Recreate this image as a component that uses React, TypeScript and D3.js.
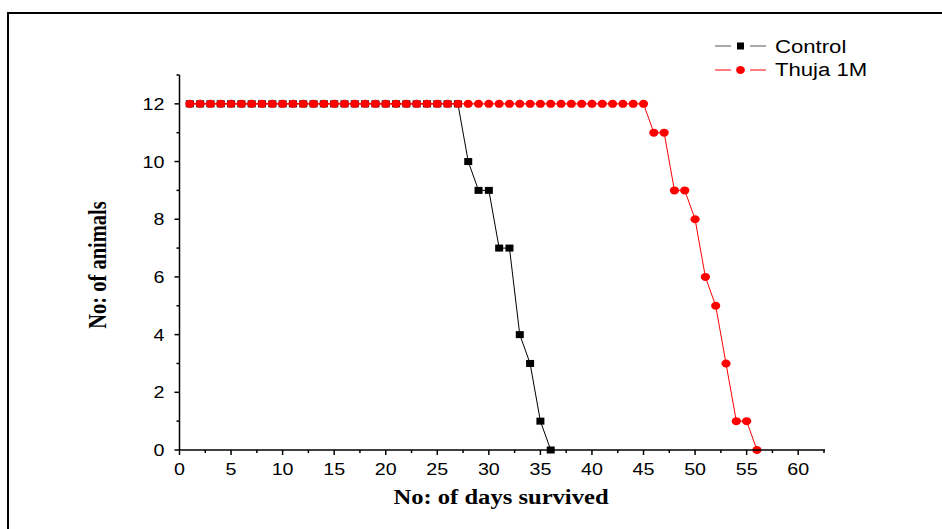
import React from "react";
import * as d3 from "d3";

// Survival counts per day
const controlDays = [1,2,3,4,5,6,7,8,9,10,11,12,13,14,15,16,17,18,19,20,21,22,23,24,25,26,27,28,29,30,31,32,33,34,35,36];
const controlCounts = [12,12,12,12,12,12,12,12,12,12,12,12,12,12,12,12,12,12,12,12,12,12,12,12,12,12,12,10,9,9,7,7,4,3,1,0];
const thujaDays = [1,2,3,4,5,6,7,8,9,10,11,12,13,14,15,16,17,18,19,20,21,22,23,24,25,26,27,28,29,30,31,32,33,34,35,36,37,38,39,40,41,42,43,44,45,46,47,48,49,50,51,52,53,54,55,56];
const thujaCounts = [12,12,12,12,12,12,12,12,12,12,12,12,12,12,12,12,12,12,12,12,12,12,12,12,12,12,12,12,12,12,12,12,12,12,12,12,12,12,12,12,12,12,12,12,12,11,11,9,9,8,6,5,3,1,1,0];
const xTicks = [0,5,10,15,20,25,30,35,40,45,50,55,60];
const yTicks = [0,2,4,6,8,10,12];
const seriesNames = ["Control", "Thuja 1M"];

const W = 942, H = 529;
const x = d3.scaleLinear().domain([0, 62.6]).range([179.5, 825]);
const y = d3.scaleLinear().domain([0, 13]).range([450, 75]);

const sans = "'Liberation Sans', Arial, sans-serif";
const serif = "'Liberation Serif', 'Times New Roman', serif";
// text in this figure is drawn horizontally widened
const SX = 1.23;

function WideText(props: { x: number; y: number; anchor?: string; size: number; family: string; bold?: boolean; children: React.ReactNode }) {
  return (
    <text
      transform={`translate(${props.x},${props.y}) scale(${SX},1)`}
      textAnchor={props.anchor || "start"}
      fontFamily={props.family}
      fontWeight={props.bold ? "bold" : "normal"}
      fontSize={props.size}
      fill="#000"
    >
      {props.children}
    </text>
  );
}

export default function App() {
  const line = d3.line<[number, number]>().x(d => x(d[0])).y(d => y(d[1]));
  const ctrl: [number, number][] = controlDays.map((d, i) => [d, controlCounts[i]]);
  const thuja: [number, number][] = thujaDays.map((d, i) => [d, thujaCounts[i]]);
  const minorX = d3.range(2.5, 62.6, 5);
  const minorY = d3.range(1, 13.01, 2);

  return (
    <svg width={W} height={H} style={{ position: "absolute", left: 0, top: 0, background: "#fff" }}>
      {/* frame */}
      <line x1={8} y1={13} x2={942} y2={13} stroke="#000" strokeWidth={2} />
      <line x1={8} y1={12} x2={8} y2={529} stroke="#000" strokeWidth={2} />

      {/* control series */}
      <path d={line(ctrl) || ""} fill="none" stroke="#000" strokeWidth={1} />
      {ctrl.map((d, i) => (
        <rect key={"c" + i} x={x(d[0]) - 4} y={y(d[1]) - 3.5} width={8} height={7} fill="#000" />
      ))}

      {/* thuja series */}
      <path d={line(thuja) || ""} fill="none" stroke="#ff0000" strokeWidth={1} />
      {thuja.map((d, i) => (
        <ellipse key={"t" + i} cx={x(d[0])} cy={y(d[1])} rx={4.6} ry={4} fill="#ff0000" />
      ))}

      {/* axes */}
      <line x1={x(0)} y1={y(0)} x2={825} y2={y(0)} stroke="#000" strokeWidth={1.5} />
      <line x1={x(0)} y1={y(0)} x2={x(0)} y2={75} stroke="#000" strokeWidth={1.5} />
      {xTicks.map(t => (
        <g key={"xt" + t}>
          <line x1={x(t)} x2={x(t)} y1={y(0)} y2={y(0) + 5} stroke="#000" strokeWidth={1.5} />
          <WideText x={x(t)} y={y(0) + 25} anchor="middle" size={16} family={sans}>{t}</WideText>
        </g>
      ))}
      {minorX.map(t => (
        <line key={"xm" + t} x1={x(t)} x2={x(t)} y1={y(0)} y2={y(0) + 3} stroke="#000" strokeWidth={1.5} />
      ))}
      {yTicks.map(t => (
        <g key={"yt" + t}>
          <line x1={x(0) - 5} x2={x(0)} y1={y(t)} y2={y(t)} stroke="#000" strokeWidth={1.5} />
          <WideText x={x(0) - 15} y={y(t) + 6} anchor="end" size={16} family={sans}>{t}</WideText>
        </g>
      ))}
      {minorY.map(t => (
        <line key={"ym" + t} x1={x(0) - 3} x2={x(0)} y1={y(t)} y2={y(t)} stroke="#000" strokeWidth={1.5} />
      ))}

      {/* axis titles */}
      <WideText x={501} y={504} anchor="middle" size={20} family={serif} bold>No: of days survived</WideText>
      <text
        transform={`translate(106,265) rotate(-90) scale(1,1.2)`}
        textAnchor="middle"
        fontFamily={serif}
        fontWeight="bold"
        fontSize={20.5}
        fill="#000"
      >
        No: of animals
      </text>

      {/* legend */}
      <g>
        <line x1={715} x2={731} y1={46} y2={46} stroke="#555" strokeWidth={1} />
        <line x1={750} x2={766} y1={46} y2={46} stroke="#555" strokeWidth={1} />
        <rect x={737} y={42.5} width={7} height={7} fill="#000" />
        <WideText x={775} y={53} size={18} family={sans}>{seriesNames[0]}</WideText>
        <line x1={715} x2={731} y1={70} y2={70} stroke="#ff0000" strokeWidth={1} />
        <line x1={750} x2={766} y1={70} y2={70} stroke="#ff0000" strokeWidth={1} />
        <ellipse cx={740.5} cy={70} rx={4.4} ry={4} fill="#ff0000" />
        <WideText x={775} y={76} size={18} family={sans}>{seriesNames[1]}</WideText>
      </g>
    </svg>
  );
}
